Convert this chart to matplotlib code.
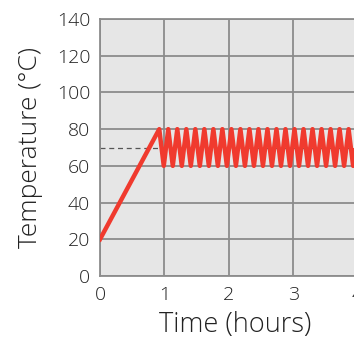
import matplotlib.pyplot as plt

# warm-up ramp, then on/off cycling between 60 and 80 C
rampTime = [0.0, 0.92]
rampTemp = [20, 80]
cycleTime = [0.92, 0.99, 1.06, 1.13, 1.20, 1.27, 1.34, 1.41, 1.48, 1.55, 1.62,
             1.69, 1.76, 1.83, 1.90, 1.97, 2.04, 2.11, 2.18, 2.25, 2.32, 2.39,
             2.46, 2.53, 2.60, 2.67, 2.74, 2.81, 2.88, 2.95, 3.02, 3.09, 3.16,
             3.23, 3.30, 3.37, 3.44, 3.51, 3.58, 3.65, 3.72, 3.79, 3.86, 3.93,
             4.00, 4.07, 4.14, 4.21]
cycleTemp = [80, 60, 80, 60, 80, 60, 80, 60, 80, 60, 80,
             60, 80, 60, 80, 60, 80, 60, 80, 60, 80, 60,
             80, 60, 80, 60, 80, 60, 80, 60, 80, 60, 80,
             60, 80, 60, 80, 60, 80, 60, 80, 60, 80, 60,
             80, 60, 80, 60]
setPoint = 70
xTicks = [0, 1, 2, 3, 4]
yTicks = [0, 20, 40, 60, 80, 100, 120, 140]

textColor = '#222222'
plt.rcParams['font.family'] = ['Open Sans', 'DejaVu Sans']

fig = plt.figure(figsize=(3.54, 3.40), dpi=100)
ax = fig.add_axes([100/354, 64/340, 270.5/354, 257/340])
ax.set_facecolor('#e6e6e6')

ax.plot(rampTime + cycleTime, rampTemp + cycleTemp, color='#f03a2e', lw=3.2,
        solid_joinstyle='round', zorder=3)
ax.axhline(setPoint, color='#555555', lw=0.9, ls=(0, (4, 3)), zorder=2)

ax.set_xlim(0, 4.2)
ax.set_ylim(0, 140)
ax.set_xticks(xTicks)
ax.set_yticks(yTicks)
ax.grid(True, color='#8c8c8c', lw=1.3, zorder=1)
ax.set_axisbelow(True)
for spine in ax.spines.values():
    spine.set_color('#8c8c8c')
    spine.set_linewidth(1.3)

ax.tick_params(length=0, labelsize=14, labelcolor=textColor, pad=7)
for lbl in ax.get_xticklabels() + ax.get_yticklabels():
    lbl.set_fontweight('light')

ax.set_xlabel('Time (hours)', fontsize=19.5, color=textColor, fontweight='light', labelpad=5)
ax.set_ylabel('Temperature (°C)', fontsize=19, color=textColor, fontweight='light', labelpad=10)

fig.savefig('out.png', dpi=100)
